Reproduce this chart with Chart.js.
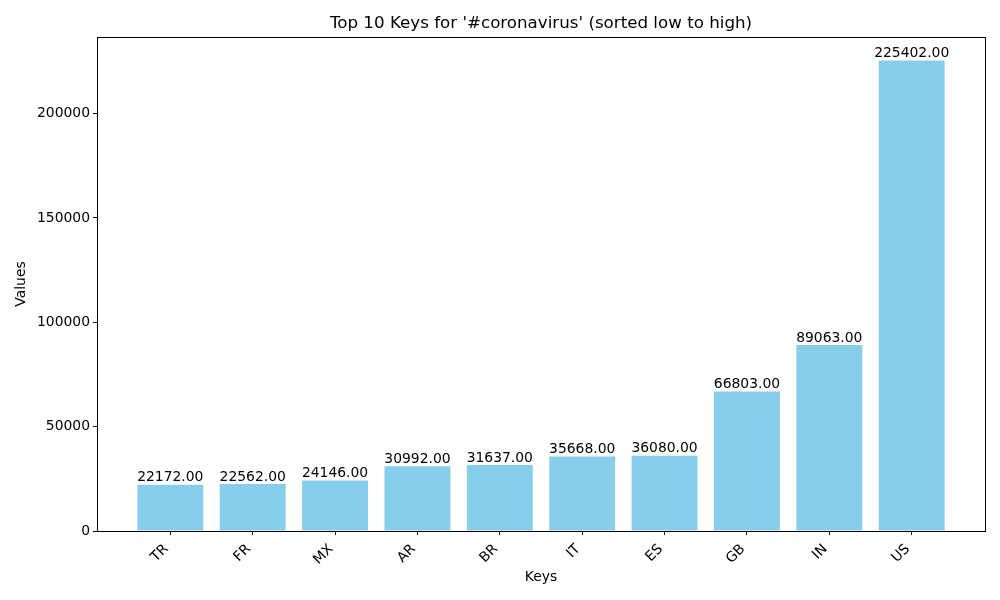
<!DOCTYPE html>
<html>
<head>
<meta charset="utf-8">
<script src="https://cdn.jsdelivr.net/npm/chart.js@4.4.1/dist/chart.umd.min.js"></script>
<style>
  html, body { margin: 0; padding: 0; background: #fff; }
  #wrap { width: 1000px; height: 600px; }
</style>
</head>
<body>
<div id="wrap"><canvas id="c" width="1000" height="600"></canvas></div>
<script>
const categories = ['TR', 'FR', 'MX', 'AR', 'BR', 'IT', 'ES', 'GB', 'IN', 'US'];
const values = [22172, 22562, 24146, 30992, 31637, 35668, 36080, 66803, 89063, 225402];
const yTicks = [0, 50000, 100000, 150000, 200000];
const titleText = "Top 10 Keys for '#coronavirus' (sorted low to high)";
const xTitle = 'Keys';
const yTitle = 'Values';

const FONT = 'DejaVu Sans';
const n = categories.length;
const xMargin = 0.05 * (n - 1 + 0.8);
const yMax = Math.max(...values) * 1.05;

const boxAndLabels = {
  id: 'boxAndLabels',
  afterDatasetsDraw(chart) {
    const ctx = chart.ctx;
    const meta = chart.getDatasetMeta(0);
    ctx.save();
    ctx.font = '13.9px "' + FONT + '"';
    ctx.fillStyle = '#000';
    ctx.textAlign = 'center';
    ctx.textBaseline = 'bottom';
    meta.data.forEach((bar, i) => {
      ctx.fillText(values[i].toFixed(2), bar.x, bar.y);
    });
    ctx.restore();
  },
  afterDraw(chart) {
    const ctx = chart.ctx;
    const a = chart.chartArea;
    ctx.save();
    ctx.strokeStyle = '#000';
    ctx.lineWidth = 1;
    ctx.strokeRect(Math.round(a.left) + 0.5, Math.round(a.top) + 0.5,
                   Math.round(a.right - a.left), Math.round(a.bottom - a.top));
    ctx.font = '16.7px "' + FONT + '"';
    ctx.fillStyle = '#000';
    ctx.textAlign = 'center';
    ctx.textBaseline = 'middle';
    ctx.fillText(titleText, (a.left + a.right) / 2, 23.5);
    ctx.restore();
  }
};

new Chart(document.getElementById('c'), {
  type: 'bar',
  data: {
    datasets: [{
      data: values.map((v, i) => ({ x: i, y: v })),
      backgroundColor: '#87CEEB',
      borderColor: '#87CEEB',
      borderWidth: 0,
      inflateAmount: 0,
      categoryPercentage: 1.0,
      barPercentage: 0.8
    }]
  },
  options: {
    responsive: false,
    animation: false,
    devicePixelRatio: 1,
    layout: { padding: { top: 37, right: 15, left: 0, bottom: 0 } },
    plugins: { legend: { display: false }, tooltip: { enabled: false }, title: { display: false } },
    scales: {
      x: {
        type: 'linear',
        offset: false,
        min: -0.4 - xMargin,
        max: n - 1 + 0.4 + xMargin,
        afterBuildTicks(scale) { scale.ticks = categories.map((c, i) => ({ value: i })); },
        afterFit(scale) { scale.height = 69; },
        grid: { display: true, offset: false, drawOnChartArea: false, drawTicks: true, tickLength: 4, color: '#000' },
        border: { display: false },
        ticks: {
          color: '#000',
          font: { family: FONT, size: 13.9 },
          minRotation: 45, maxRotation: 45,
          padding: 6,
          labelOffset: -4,
          autoSkip: false,
          callback: (v) => categories[Math.round(v)] ?? ''
        },
        title: { display: true, text: xTitle, color: '#000', font: { family: FONT, size: 13.9 }, padding: { top: 0, bottom: 14 } }
      },
      y: {
        type: 'linear',
        min: 0,
        max: yMax,
        afterBuildTicks(scale) { scale.ticks = yTicks.map(v => ({ value: v })); },
        afterFit(scale) { scale.width = 97; },
        grid: { display: true, drawOnChartArea: false, drawTicks: true, tickLength: 4, color: '#000' },
        border: { display: false },
        ticks: {
          color: '#000',
          font: { family: FONT, size: 13.9 },
          padding: 3,
          callback: (v) => String(v)
        },
        title: { display: true, text: yTitle, color: '#000', font: { family: FONT, size: 13.9 }, padding: { top: 13, bottom: 0 } }
      }
    }
  },
  plugins: [boxAndLabels]
});
</script>
</body>
</html>
